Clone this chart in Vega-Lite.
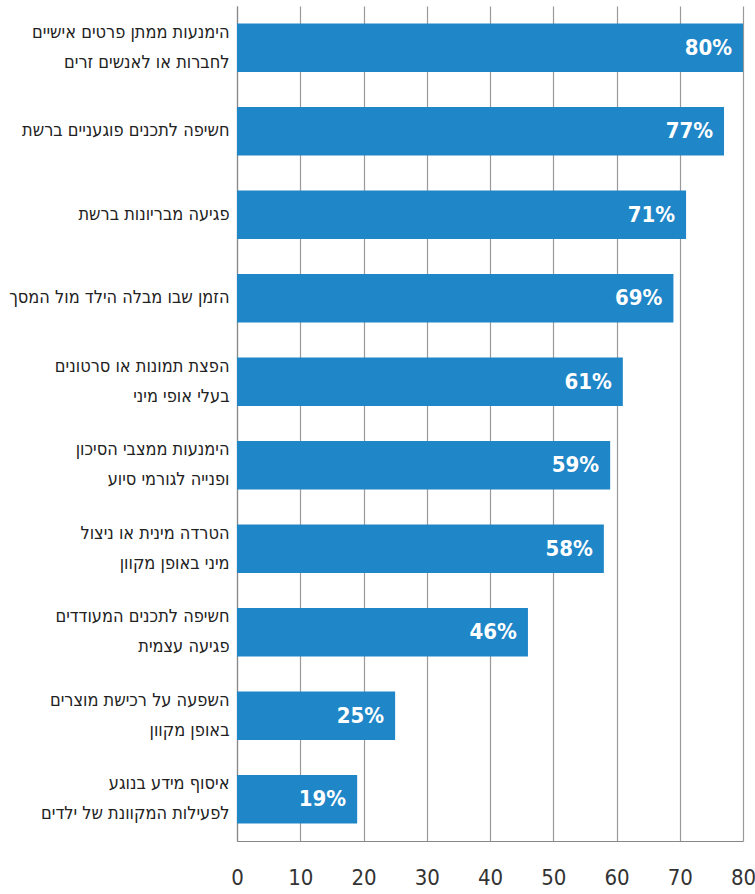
{
  "$schema": "https://vega.github.io/schema/vega-lite/v6.json",
  "width": 506,
  "height": 835,
  "autosize": {"type": "none"},
  "padding": {"left": 237, "top": 6, "right": 12, "bottom": 53},
  "background": "white",
  "config": {"view": {"stroke": null}},
  "data": {
    "values": [
      {"label": "הימנעות ממתן פרטים אישיים|לחברות או לאנשים זרים", "value": 80},
      {"label": "חשיפה לתכנים פוגעניים ברשת", "value": 77},
      {"label": "פגיעה מבריונות ברשת", "value": 71},
      {"label": "הזמן שבו מבלה הילד מול המסך", "value": 69},
      {"label": "הפצת תמונות או סרטונים|בעלי אופי מיני", "value": 61},
      {"label": "הימנעות ממצבי הסיכון|ופנייה לגורמי סיוע", "value": 59},
      {"label": "הטרדה מינית או ניצול|מיני באופן מקוון", "value": 58},
      {"label": "חשיפה לתכנים המעודדים|פגיעה עצמית", "value": 46},
      {"label": "השפעה על רכישת מוצרים|באופן מקוון", "value": 25},
      {"label": "איסוף מידע בנוגע|לפעילות המקוונת של ילדים", "value": 19}
    ]
  },
  "encoding": {
    "y": {
      "field": "label",
      "type": "nominal",
      "sort": "-x",
      "title": null,
      "scale": {"paddingInner": 0.42, "paddingOuter": 0.21},
      "axis": {
        "labelExpr": "split(datum.label, '|')",
        "labelFont": "DejaVu Sans Condensed",
        "labelFontSize": 18,
        "labelLineHeight": 30,
        "labelColor": "#222",
        "labelPadding": 8,
        "labelLimit": 240,
        "labelOffset": {"condition": {"test": "length(split(datum.value, '|')) > 1", "value": -15}, "value": 0},
        "ticks": false,
        "domainColor": "#888",
        "domainWidth": 1.2
      }
    },
    "x": {
      "field": "value",
      "type": "quantitative",
      "title": null,
      "scale": {"domain": [0, 80]},
      "axis": {
        "values": [0, 10, 20, 30, 40, 50, 60, 70, 80],
        "ticks": false,
        "grid": true,
        "gridColor": "#999",
        "gridWidth": 1.2,
        "domainColor": "#888",
        "domainWidth": 1.2,
        "labelFont": "DejaVu Sans Condensed",
        "labelFontSize": 22,
        "labelColor": "#333",
        "labelPadding": 26,
        "labelFlush": false
      }
    }
  },
  "layer": [
    {"mark": {"type": "bar", "color": "#1f86c8"}},
    {
      "mark": {"type": "text", "align": "right", "dx": -11, "color": "white", "font": "DejaVu Sans Condensed", "fontSize": 22, "fontWeight": "bold", "baseline": "middle", "text": {"expr": "datum.value + '%'"}}
    }
  ]
}
